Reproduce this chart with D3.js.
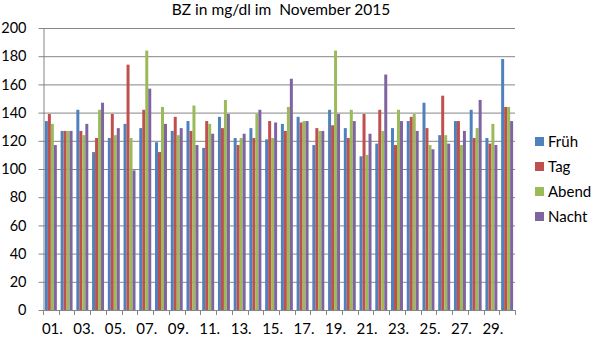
<!DOCTYPE html>
<html>
<head>
<meta charset="utf-8">
<script src="https://cdn.jsdelivr.net/npm/d3@7"></script>
<style>
  html, body { margin: 0; padding: 0; background: #fff; }
  svg { display: block; font-family: Lato, "Open Sans", sans-serif; }
  text { white-space: pre; }
</style>
</head>
<body>
<svg id="chart" width="598" height="340"></svg>
<script>
// Blood sugar readings (mg/dl) for each day of November 2015
const days = d3.range(1, 31).map(d => String(d).padStart(2, "0") + ".");
const seriesNames = ["Früh", "Tag", "Abend", "Nacht"];
const seriesColors = ["#4F81BD", "#C0504D", "#9BBB59", "#8064A2"];

const frueh = [134,127,142,112,122,132,129,119,127,134,115,137,122,129,121,132,137,117,142,129,109,118,129,134,147,124,134,142,122,178];
const tag   = [139,127,127,122,139,174,142,112,137,127,134,129,117,122,134,127,133,129,131,122,139,142,117,137,129,152,134,122,118,144];
const abend = [132,127,124,142,124,122,184,144,124,145,132,149,122,139,122,144,134,127,184,142,110,127,142,139,117,124,117,129,132,144];
const nacht = [117,127,132,147,129, 99,157,132,129,117,125,139,125,142,133,164,134,127,139,134,125,167,134,127,114,118,127,149,117,134];

const yTicks = [0, 20, 40, 60, 80, 100, 120, 140, 160, 180, 200];
const title = "BZ in mg/dl im  November 2015";

const seriesValues = [frueh, tag, abend, nacht];

const svg = d3.select("#chart");
const plot = { left: 43, right: 515, top: 28, bottom: 310 };
const gridColor = "#868686";

const x = d3.scaleBand().domain(days).range([plot.left, plot.right]).paddingInner(0.24).paddingOuter(0.12);
const xSeries = d3.scaleBand().domain(seriesNames).range([0, x.bandwidth()]);
const y = d3.scaleLinear().domain([0, 200]).range([plot.bottom, plot.top]);

// Horizontal gridlines
svg.append("g")
  .selectAll("line")
  .data(yTicks.filter(t => t > 0))
  .join("line")
  .attr("x1", plot.left).attr("x2", plot.right)
  .attr("y1", d => y(d) + 0.5).attr("y2", d => y(d) + 0.5)
  .attr("stroke", gridColor).attr("stroke-width", 1);

// Bars
const groups = svg.append("g")
  .selectAll("g")
  .data(days)
  .join("g")
  .attr("transform", d => `translate(${x(d)},0)`);

groups.selectAll("rect")
  .data((d, i) => seriesNames.map((s, k) => ({ s, k, v: seriesValues[k][i] })))
  .join("rect")
  .attr("x", d => xSeries(d.s))
  .attr("width", xSeries.bandwidth())
  .attr("y", d => y(d.v))
  .attr("height", d => y(0) - y(d.v))
  .attr("fill", d => seriesColors[d.k]);

// Y axis
const yAxis = d3.axisLeft(y).tickValues(yTicks).tickSize(5).tickPadding(12).tickSizeOuter(0);
const gy = svg.append("g").attr("transform", `translate(${plot.left + 0.5},0)`).call(yAxis);
gy.select(".domain").attr("stroke", gridColor);
gy.selectAll(".tick line").attr("stroke", gridColor);
gy.selectAll(".tick text").attr("font-size", 14.5).attr("fill", "#000")
  .attr("font-family", "Lato, 'Open Sans', sans-serif");

// X axis: tick marks on category boundaries, labels on every other day
const xAxisG = svg.append("g");
xAxisG.append("line")
  .attr("x1", plot.left).attr("x2", plot.right)
  .attr("y1", plot.bottom + 0.5).attr("y2", plot.bottom + 0.5)
  .attr("stroke", gridColor);
const step = x.step();
const firstEdge = x(days[0]) - x.paddingOuter() * step;
const boundaries = d3.range(days.length + 1).map(i => firstEdge + i * step);
xAxisG.selectAll("line.tick")
  .data(boundaries)
  .join("line")
  .attr("class", "tick")
  .attr("x1", d => Math.round(d) + 0.5).attr("x2", d => Math.round(d) + 0.5)
  .attr("y1", plot.bottom).attr("y2", plot.bottom + 5)
  .attr("stroke", gridColor);
xAxisG.selectAll("text")
  .data(days.filter((d, i) => i % 2 === 0))
  .join("text")
  .attr("x", d => x(d) + x.bandwidth() / 2 + 1.5)
  .attr("y", 334)
  .attr("text-anchor", "middle")
  .attr("font-size", 15)
  .text(d => d);

// Title
svg.append("text")
  .attr("x", 281).attr("y", 15)
  .attr("text-anchor", "middle")
  .attr("font-size", 15.5)
  .text(title);

// Legend
const legend = svg.append("g").attr("transform", "translate(535,142)");
const items = legend.selectAll("g")
  .data(seriesNames)
  .join("g")
  .attr("transform", (d, i) => `translate(0,${i * 25})`);
items.append("rect")
  .attr("x", 0).attr("y", -5).attr("width", 9).attr("height", 9)
  .attr("fill", (d, i) => seriesColors[i]);
items.append("text")
  .attr("x", 13).attr("y", 5)
  .attr("font-size", 15)
  .text(d => d);
</script>
</body>
</html>
